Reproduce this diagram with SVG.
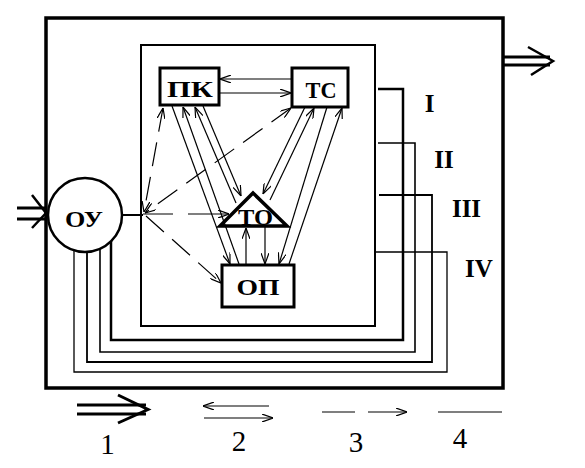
<svg xmlns="http://www.w3.org/2000/svg" width="585" height="468" viewBox="0 0 585 468">
<style>
.box{fill:#fff;stroke:#000;stroke-width:3}
.ln{fill:none;stroke:#000;stroke-width:1.2}
.ds{fill:none;stroke:#000;stroke-width:1.2;stroke-dasharray:24 11}
.fb{fill:none;stroke:#000}
.big{fill:none;stroke:#000;stroke-width:3}
.t{font-family:"Liberation Serif","Times New Roman",serif;font-weight:bold;font-size:24px;fill:#000}
.r{font-family:"Liberation Serif","Times New Roman",serif;font-weight:bold;font-size:25px;fill:#000}
.n{font-family:"Liberation Serif","Times New Roman",serif;font-size:29px;fill:#000}
</style>
<defs>
<marker id="a" viewBox="0 0 11 8" refX="11" refY="4" markerWidth="11" markerHeight="8" markerUnits="userSpaceOnUse" orient="auto-start-reverse">
<path d="M0,0 L11,4 L0,8" fill="none" stroke="#000" stroke-width="1.2"/>
</marker>
</defs>
<rect width="585" height="468" fill="#fff"/>
<g id="system">
<rect x="46" y="18" width="457" height="370" fill="none" stroke="#000" stroke-width="3.5"/>
<rect x="141" y="45" width="234" height="281" fill="none" stroke="#000" stroke-width="2"/>
</g>
<g id="connectors">
<path class="big" d="M17,208 H46 M17,219 H46"/>
<path fill="none" stroke="#000" stroke-width="2.5" d="M32,195 L46,213 L32,228"/>
<path class="big" d="M503,57 H550 M503,65 H550" stroke-width="2.5"/>
<path fill="none" stroke="#000" stroke-width="2.5" d="M528,47 L553,61 L531,75"/>
<path fill="none" stroke="#000" stroke-width="2" d="M122,215 H143"/>
<path class="ln" d="M292,79 H220" marker-end="url(#a)"/>
<path class="ln" d="M220,93 H291" marker-end="url(#a)"/>
<path class="ln" d="M172,106 L230,264" marker-end="url(#a)"/>
<path class="ln" d="M239,264 L183,107" marker-end="url(#a)"/>
<path class="ln" d="M203,106 L241,196" marker-end="url(#a)"/>
<path class="ln" d="M236,203 L195,107" marker-end="url(#a)"/>
<path class="ln" d="M305,107 L263,194" marker-end="url(#a)"/>
<path class="ln" d="M270,200 L314,108" marker-end="url(#a)"/>
<path class="ln" d="M327,107 L279,264" marker-end="url(#a)"/>
<path class="ln" d="M289,264 L342,108" marker-end="url(#a)"/>
<path class="ln" d="M246,264 V228" marker-end="url(#a)"/>
<path class="ln" d="M265,227 V264" marker-end="url(#a)"/>
<path class="ds" d="M163,108 L144,212" marker-start="url(#a)" marker-end="url(#a)"/>
<path class="ds" d="M291,108 L145,213" marker-start="url(#a)" marker-end="url(#a)"/>
<path class="ds" d="M146,216 L221,283" stroke-dasharray="20 10" marker-end="url(#a)"/>
<path class="ln" d="M143,214 H173 M188,214 H229" marker-end="url(#a)"/>
<path class="fb" stroke-width="2.5" d="M111,241 V340 H403 V89 H378"/>
<path class="fb" stroke-width="1.6" d="M100,249 V352 H415 V143 H378"/>
<path class="fb" stroke-width="1.8" d="M87,252 V362 H432 V195 H379"/>
<path class="fb" stroke-width="1.3" d="M74,250 V372 H447 V252 H375"/>
</g>
<g id="ou">
<circle cx="85" cy="215" r="37" fill="#fff" stroke="#000" stroke-width="2.5"/>
<text class="t" x="84" y="227" text-anchor="middle" font-size="25" textLength="38" lengthAdjust="spacingAndGlyphs">ОУ</text>
</g>
<g id="pk">
<rect class="box" x="160" y="68" width="59" height="37"/>
<text class="t" x="190" y="97" text-anchor="middle" textLength="46" lengthAdjust="spacingAndGlyphs">ПК</text>
</g>
<g id="ts">
<rect class="box" x="292" y="68" width="56" height="39"/>
<text class="t" x="321" y="98" text-anchor="middle" textLength="31" lengthAdjust="spacingAndGlyphs">ТС</text>
</g>
<g id="op">
<rect class="box" x="222" y="265" width="72" height="42"/>
<text class="t" x="258" y="295" text-anchor="middle" textLength="43" lengthAdjust="spacingAndGlyphs">ОП</text>
</g>
<g id="to">
<path d="M220,226 L253,193 L287,226 Z" fill="none" stroke="#000" stroke-width="3.5" stroke-linejoin="miter"/>
<text class="t" x="238" y="225" textLength="35" lengthAdjust="spacingAndGlyphs">ТО</text>
</g>
<g id="labels">
<text class="r" x="429.5" y="112" text-anchor="middle">I</text>
<text class="r" x="444" y="168" text-anchor="middle">II</text>
<text class="r" x="466.5" y="217" text-anchor="middle">III</text>
<text class="r" x="479" y="277" text-anchor="middle">IV</text>
</g>
<g id="legend">
<path class="big" d="M77,405 H146 M77,414 H146"/>
<path class="big" d="M118,395 L148,409.5 L118,423"/>
<path class="ln" d="M269,406 H203" marker-end="url(#a)"/>
<path class="ln" d="M204,418 H273" marker-end="url(#a)"/>
<path class="ln" d="M322,412 H355"/>
<path class="ln" d="M368,412 H407" marker-end="url(#a)"/>
<path class="ln" d="M438,412 H502"/>
<text class="n" x="107.5" y="454" text-anchor="middle">1</text>
<text class="n" x="239" y="451" text-anchor="middle">2</text>
<text class="n" x="356" y="452" text-anchor="middle">3</text>
<text class="n" x="460" y="448" text-anchor="middle" font-size="22">4</text>
</g>
</svg>
